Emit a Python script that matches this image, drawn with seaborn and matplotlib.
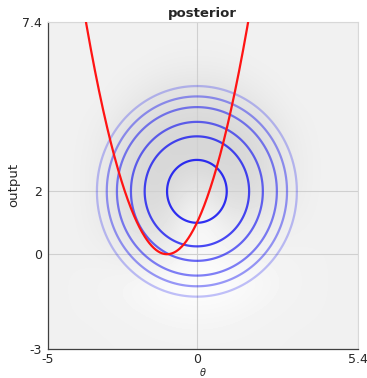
import numpy as np
import pandas as pd
import matplotlib
matplotlib.use("Agg")
import matplotlib.pyplot as plt
import seaborn as sns

# ---- data ----
x_ticks = [-5, 0, 5.4]
x_ticklabels = ["-5", "0", "5.4"]
y_ticks = [-3, 0, 2, 7.4]
y_ticklabels = ["-3", "0", "2", "7.4"]
x_limits = [-5, 5.4]
y_limits = [-3, 7.4]

# posterior contours: circles around the centre
contour_center = [0.0, 2.0]
contour_radii = [1.0, 1.75, 2.21, 2.68, 3.02, 3.35]
contour_alpha = [0.85, 0.75, 0.62, 0.52, 0.42, 0.25]

# red curve: y = a * (theta - h)^2 + k
curve_a = 1.0
curve_h = -1.0
curve_k = 0.0

# background gray levels on a coarse grid (rows y=7..-3, cols x=-5..5)
bg_x = [-5, -4, -3, -2, -1, 0, 1, 2, 3, 4, 5]
bg_y = [7, 6, 5, 4, 3, 2, 1, 0, -1, -2, -3]
bg_gray = [
    [0.945, 0.945, 0.945, 0.945, 0.945, 0.945, 0.945, 0.945, 0.945, 0.945, 0.945],
    [0.945, 0.945, 0.945, 0.945, 0.935, 0.93, 0.935, 0.945, 0.945, 0.945, 0.945],
    [0.945, 0.945, 0.945, 0.915, 0.88, 0.87, 0.88, 0.915, 0.945, 0.945, 0.945],
    [0.945, 0.945, 0.925, 0.86, 0.845, 0.84, 0.845, 0.86, 0.925, 0.945, 0.945],
    [0.945, 0.945, 0.91, 0.85, 0.84, 0.835, 0.84, 0.85, 0.91, 0.945, 0.945],
    [0.945, 0.945, 0.905, 0.85, 0.845, 0.93, 0.85, 0.86, 0.915, 0.945, 0.945],
    [0.945, 0.945, 0.915, 0.87, 0.88, 1.0, 0.92, 0.92, 0.935, 0.945, 0.945],
    [0.945, 0.945, 0.94, 0.915, 0.93, 0.98, 0.96, 0.955, 0.95, 0.945, 0.945],
    [0.945, 0.945, 0.955, 0.975, 0.995, 1.0, 0.995, 0.975, 0.955, 0.945, 0.945],
    [0.945, 0.945, 0.945, 0.95, 0.96, 0.965, 0.96, 0.95, 0.945, 0.945, 0.945],
    [0.945, 0.945, 0.945, 0.945, 0.945, 0.945, 0.945, 0.945, 0.945, 0.945, 0.945],
]

sns.set_style("white")
plt.rcParams["font.family"] = ["DejaVu Sans"]

fig = plt.figure(figsize=(3.67, 3.78), dpi=100)
ax = fig.add_axes([0.130, 0.078, 0.8455, 0.8648])

# background image
ax.imshow(np.array(bg_gray), cmap="gray", vmin=0, vmax=1,
          extent=[bg_x[0] - 0.5, bg_x[-1] + 0.5, bg_y[-1] - 0.5, bg_y[0] + 0.5],
          interpolation="bicubic", aspect="auto", zorder=0)

# grid lines at ticks
for xv in x_ticks:
    ax.axvline(xv, color="#d0d0d0", lw=0.8, zorder=1)
for yv in y_ticks:
    ax.axhline(yv, color="#d0d0d0", lw=0.8, zorder=1)

# contours
gx = np.linspace(x_limits[0], x_limits[1], 500)
gy = np.linspace(y_limits[0], y_limits[1], 500)
GX, GY = np.meshgrid(gx, gy)
R = np.sqrt((GX - contour_center[0]) ** 2 + (GY - contour_center[1]) ** 2)
for r, a in zip(contour_radii, contour_alpha):
    ax.contour(GX, GY, R, levels=[r], colors=[(0.05, 0.05, 0.95, a)],
               linewidths=1.6, zorder=2)

# red curve
theta = np.linspace(-4.0, 2.0, 400)
df = pd.DataFrame({"theta": theta, "output": curve_a * (theta - curve_h) ** 2 + curve_k})
sns.lineplot(data=df, x="theta", y="output", color="#ff1414", lw=1.6, ax=ax,
             sort=False, zorder=3)

ax.set_xlim(x_limits)
ax.set_ylim(y_limits)
ax.set_xticks(x_ticks)
ax.set_xticklabels(x_ticklabels)
ax.set_yticks(y_ticks)
ax.set_yticklabels(y_ticklabels)
ax.tick_params(direction="in", length=3, width=0.8, colors="#404040",
               labelcolor="#262626", labelsize=9)
ax.tick_params(axis="x", pad=3)
ax.tick_params(axis="y", pad=4)

for s in ["left", "bottom"]:
    ax.spines[s].set_color("#404040")
    ax.spines[s].set_linewidth(0.9)
for s in ["top", "right"]:
    ax.spines[s].set_color("#d8d8d8")
    ax.spines[s].set_linewidth(0.8)

ax.set_title("posterior", fontweight="bold", fontsize=9.5, pad=3)
ax.set_xlabel(r"$\theta$", fontsize=7, va="center")
ax.xaxis.set_label_coords(0.50, -0.071)
ax.set_ylabel("output", fontsize=9.5, va="center")
ax.yaxis.set_label_coords(-0.108, 0.5)

fig.savefig("out.png", dpi=100)
